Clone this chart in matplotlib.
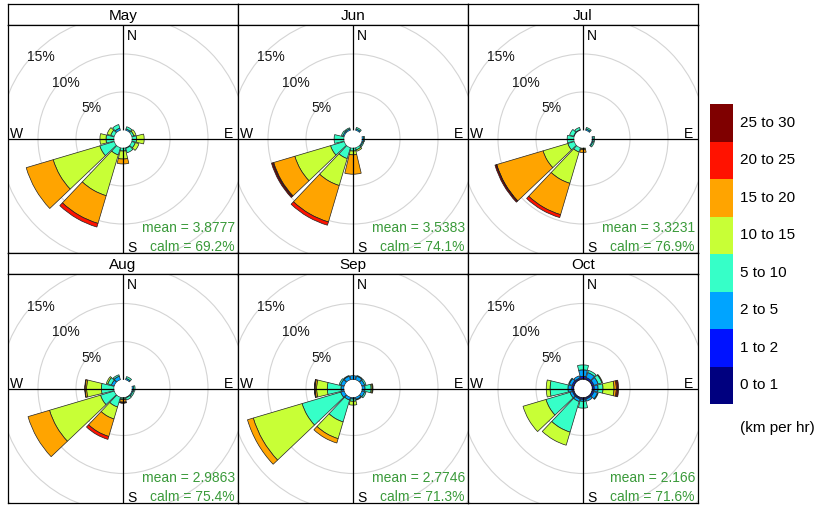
import matplotlib
matplotlib.use("Agg")
import matplotlib.pyplot as plt
from matplotlib.patches import Wedge, Circle

plt.rcParams['font.family'] = ['Liberation Sans', 'DejaVu Sans']

# ---------------- data ----------------
months = ["May", "Jun", "Jul", "Aug", "Sep", "Oct"]
directions = [0, 30, 60, 90, 120, 150, 180, 210, 240, 270, 300, 330]
speed_bins = ["0 to 1", "1 to 2", "2 to 5", "5 to 10",
              "10 to 15", "15 to 20", "20 to 25", "25 to 30"]
bin_colors = ["#00007F", "#0012FF", "#00A4FF", "#36FFC8",
              "#C8FF36", "#FFA400", "#FF1200", "#7F0000"]

# percentage frequency per direction (rows) and speed bin (columns)
may = [
    [0, 0, 0, 0, 0, 0, 0, 0],
    [0, 0, 0.2, 0.3, 0, 0, 0, 0],
    [0, 0, 0, 0.3, 0.3, 0, 0, 0],
    [0, 0, 0, 0.6, 1.0, 0, 0, 0],
    [0, 0, 0, 0.5, 0.5, 0, 0, 0],
    [0, 0, 0.1, 0.6, 0, 0, 0, 0],
    [0, 0, 0, 0.4, 1.05, 0.65, 0, 0],
    [0, 0, 0, 1.0, 5.6, 3.8, 0.5, 0],
    [0, 0, 0, 2.0, 6.4, 3.7, 0, 0],
    [0, 0, 0, 1.05, 0.8, 0, 0, 0],
    [0, 0, 0, 0.5, 0.5, 0, 0, 0],
    [0, 0, 0.3, 0.5, 0, 0, 0, 0],
]
jun = [
    [0, 0, 0, 0, 0, 0, 0, 0],
    [0, 0, 0.2, 0.2, 0, 0, 0, 0],
    [0, 0, 0, 0, 0, 0, 0, 0],
    [0, 0, 0.2, 0.15, 0, 0, 0, 0],
    [0, 0, 0.15, 0.15, 0, 0, 0, 0],
    [0, 0, 0, 0.3, 0.2, 0, 0, 0],
    [0, 0, 0, 0.4, 0.5, 2.55, 0, 0],
    [0, 0, 0, 1.5, 3.7, 5.0, 0.45, 0],
    [0, 0, 0, 1.9, 4.9, 2.9, 0.1, 0.2],
    [0, 0, 0, 1.3, 0, 0, 0, 0],
    [0, 0, 0.2, 0.2, 0, 0, 0, 0],
    [0, 0, 0.2, 0.15, 0, 0, 0, 0],
]
jul = [
    [0, 0, 0, 0, 0, 0, 0, 0],
    [0, 0, 0.2, 0.2, 0, 0, 0, 0],
    [0, 0, 0, 0, 0, 0, 0, 0],
    [0, 0, 0.15, 0.2, 0, 0, 0, 0],
    [0, 0, 0.15, 0.2, 0, 0, 0, 0],
    [0, 0, 0, 0, 0, 0, 0, 0],
    [0, 0, 0, 0.1, 0.1, 0.4, 0, 0],
    [0, 0, 0, 0.6, 4.3, 4.3, 0.4, 0],
    [0, 0, 0, 0.9, 3.4, 6.35, 0.05, 0.2],
    [0, 0, 0, 0.9, 0, 0, 0, 0],
    [0, 0, 0.1, 0.55, 0, 0, 0, 0],
    [0, 0, 0.1, 0.3, 0, 0, 0, 0],
]
aug = [
    [0, 0, 0, 0, 0, 0, 0, 0],
    [0, 0, 0.2, 0.25, 0, 0, 0, 0],
    [0, 0, 0, 0, 0, 0, 0, 0],
    [0, 0, 0.2, 0.2, 0, 0, 0, 0],
    [0, 0, 0.15, 0.2, 0, 0, 0, 0],
    [0, 0, 0.1, 0.3, 0, 0, 0, 0],
    [0, 0, 0, 0.2, 0.1, 0.3, 0.1, 0.05],
    [0, 0, 0, 1.35, 1.65, 2.4, 0.4, 0],
    [0, 0, 0, 1.9, 7.0, 2.95, 0, 0],
    [0, 0, 0, 1.66, 1.94, 0.2, 0.05, 0],
    [0, 0, 0.4, 0.5, 0.2, 0, 0, 0],
    [0, 0, 0.5, 0.2, 0, 0, 0, 0],
]
sep = [
    [0, 0, 0.5, 0, 0, 0, 0, 0],
    [0, 0, 0.5, 0.1, 0, 0, 0, 0],
    [0, 0, 0.4, 0.2, 0, 0, 0, 0],
    [0, 0, 0.4, 0.8, 0.15, 0.1, 0, 0],
    [0, 0, 0.4, 0.2, 0, 0, 0, 0],
    [0, 0, 0.3, 0.1, 0, 0, 0, 0],
    [0, 0, 0.2, 0.3, 0.5, 0, 0, 0],
    [0, 0, 0.4, 3.0, 2.3, 0.6, 0, 0],
    [0, 0, 0.5, 5.3, 6.7, 0.8, 0, 0],
    [0, 0, 0.4, 1.8, 1.4, 0.2, 0.05, 0.05],
    [0, 0, 0.5, 0.2, 0, 0, 0, 0],
    [0, 0, 0.5, 0.1, 0, 0, 0, 0],
]
oct_ = [
    [0.12, 0.3, 0.85, 0.65, 0, 0, 0, 0],
    [0.1, 0.2, 0.7, 0.3, 0, 0, 0, 0],
    [0.1, 0.2, 0.6, 0.5, 0.1, 0, 0, 0],
    [0.1, 0.2, 0.5, 0.65, 1.45, 0.3, 0.15, 0.15],
    [0.1, 0.2, 0.5, 0.1, 0, 0, 0, 0],
    [0.1, 0.15, 0.3, 0, 0, 0, 0, 0],
    [0.1, 0.15, 0.25, 0.9, 0, 0, 0, 0],
    [0.1, 0.15, 0.35, 4.2, 1.8, 0, 0, 0],
    [0.1, 0.15, 0.35, 3.3, 3.15, 0, 0, 0],
    [0.1, 0.2, 0.5, 2.35, 0.5, 0, 0, 0],
    [0.1, 0.2, 0.4, 0.1, 0, 0, 0, 0],
    [0.1, 0.15, 0.3, 0, 0, 0, 0, 0],
]
freqs = [may, jun, jul, aug, sep, oct_]
mean_speed = [3.8777, 3.5383, 3.3231, 2.9863, 2.7746, 2.166]
calm_pct = [69.2, 74.1, 76.9, 75.4, 71.3, 71.6]
ring_values = [5, 10, 15]

# ---------------- layout ----------------
W, H = 818, 505
PX = 7.6          # pixels per percent
OFFSET = 9 / PX   # inner hole radius (in percent units)
HALF = 13.5       # half wedge width (deg)
GREEN = "#3a9a3a"

fig = plt.figure(figsize=(W / 100, H / 100), dpi=100)


def rect(x0, y0, x1, y1):
    return [x0 / W, 1 - y1 / H, (x1 - x0) / W, (y1 - y0) / H]


col_x = [(8, 238), (238, 468), (468, 698)]
row_y = [((4, 25), (25, 253)), ((253, 274), (274, 503))]

for k, month in enumerate(months):
    r, c = divmod(k, 3)
    x0, x1 = col_x[c]
    (s0, s1), (p0, p1) = row_y[r]

    # strip
    axs = fig.add_axes(rect(x0, s0, x1, s1))
    axs.set_xticks([]); axs.set_yticks([])
    for sp in axs.spines.values():
        sp.set_linewidth(0.9)
    axs.text(0.5, 0.45, month, ha="center", va="center", fontsize=11,
             transform=axs.transAxes)

    # panel
    ax = fig.add_axes(rect(x0, p0, x1, p1))
    hw = (x1 - x0) / 2 / PX
    hh = (p1 - p0) / 2 / PX
    ax.set_xlim(-hw, hw)
    ax.set_ylim(-hh, hh)
    ax.set_xticks([]); ax.set_yticks([])
    for sp in ax.spines.values():
        sp.set_linewidth(0.9)

    for v in ring_values + [20]:
        ax.add_patch(Circle((0, 0), OFFSET + v, fill=False, ec="#d4d4d4",
                            lw=0.8, zorder=1))

    for d, row in zip(directions, freqs[k]):
        cum = 0.0
        th = 90 - d
        for val, col in zip(row, bin_colors):
            if val <= 0:
                continue
            rin = OFFSET + cum
            cum += val
            rout = OFFSET + cum
            ax.add_patch(Wedge((0, 0), rout, th - HALF, th + HALF,
                               width=rout - rin, facecolor=col,
                               edgecolor="#222222", lw=0.5, zorder=2))

    ax.axhline(0, color="black", lw=0.9, zorder=3)
    ax.axvline(0, color="black", lw=0.9, zorder=3)
    ax.add_patch(Circle((0, 0), OFFSET * 0.96, fc="white", ec="none", zorder=4))

    for v in ring_values:
        rr = (OFFSET + v) * 0.95
        ax.text(-rr * 0.7071, rr * 0.7071 - 1 / PX, f"{v}%", ha="center",
                va="center", fontsize=10, color="#1a1a1a", zorder=5)

    ax.text(4 / PX, hh - 4 / PX, "N", ha="left", va="top", fontsize=10, zorder=5)
    ax.text(4 / PX, -hh + 1.5 / PX, "S", ha="left", va="baseline", fontsize=10, zorder=5)
    ax.text(-hw + 2 / PX, 1 / PX, "W", ha="left", va="baseline", fontsize=10, zorder=5)
    ax.text(hw - 5 / PX, 1 / PX, "E", ha="right", va="baseline", fontsize=10, zorder=5)

    ax.text(hw - 3 / PX, -hh + 21 / PX, f"mean = {mean_speed[k]:g}",
            ha="right", va="baseline", fontsize=10, color=GREEN, zorder=5)
    ax.text(hw - 3 / PX, -hh + 2 / PX, f"calm = {calm_pct[k]:.1f}%",
            ha="right", va="baseline", fontsize=10, color=GREEN, zorder=5)

# legend key
lg_top, lg_bot = 104, 404
axl = fig.add_axes(rect(710, lg_top, 733, lg_bot))
axl.bar([0] * len(speed_bins), [1] * len(speed_bins),
        bottom=list(range(len(speed_bins))), width=1, color=bin_colors)
axl.set_xlim(-0.5, 0.5)
axl.set_ylim(0, len(speed_bins))
axl.axis("off")
step = (lg_bot - lg_top) / len(speed_bins)
for i, lab in enumerate(speed_bins):
    yc = lg_bot - step * (i + 0.5)
    fig.text(740 / W, 1 - yc / H, lab, ha="left", va="center", fontsize=11)
fig.text(740 / W, 1 - 428 / H, "(km per hr)", ha="left", va="center", fontsize=11)

fig.savefig("out.png", dpi=100)
